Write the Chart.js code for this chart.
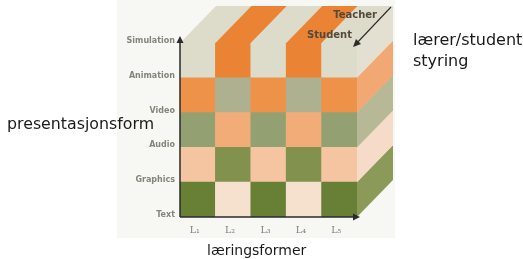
<!DOCTYPE html>
<html>
<head>
<meta charset="utf-8">
<script src="https://cdn.jsdelivr.net/npm/chart.js@4"></script>
<style>
  html, body { margin: 0; padding: 0; background: #ffffff; }
  #wrap { position: relative; width: 523px; height: 259px; overflow: hidden; }
  #bg { position: absolute; left: 117px; top: 0; width: 278px; height: 238px; background: #f7f7f3; }
  canvas { position: absolute; left: 0; top: 0; }
  .lbl { position: absolute; font-family: "DejaVu Sans", sans-serif; color: #1a1a1a; white-space: nowrap; line-height: 1; }
</style>
</head>
<body>
<div id="wrap">
  <div id="bg"></div>
  <canvas id="c" width="523" height="259"></canvas>
  <div class="lbl" style="left:7px; top:116px; font-size:15.8px;">presentasjonsform</div>
  <div class="lbl" style="left:207px; top:243px; font-size:14px;">læringsformer</div>
  <div class="lbl" style="left:413px; top:32px; font-size:16px;">lærer/student</div>
  <div class="lbl" style="left:413px; top:53px; font-size:16px;">styring</div>
</div>
<script>
// ---- data ----
const categories = ['L\u2081', 'L\u2082', 'L\u2083', 'L\u2084', 'L\u2085'];   // læringsformer
const rowTickLabels = ['Text', 'Graphics', 'Audio', 'Video', 'Animation', 'Simulation']; // presentasjonsform
const rowNames = ['Text', 'Graphics', 'Audio', 'Video', 'Animation'];
const cellHeight = [1, 1, 1, 1, 1];        // every cell is one unit tall
const depthLabels = ['Teacher', 'Student']; // lærer/student styring
// colours, bottom row -> top row
const oddColumnColors  = ['#687f36', '#f5c4a0', '#93a172', '#ef9249', '#dddccb'];
const evenColumnColors = ['#f6e1cf', '#82914d', '#f2ac78', '#adb18f', '#ea8434'];
const sideFaceColors   = ['#8b9a58', '#f6dcc8', '#b7b895', '#f1a872', '#e3e0d2'];

const depth = { dx: 36, dy: -37 };

const cubePlugin = {
  id: 'cube',
  afterDatasetsDraw(chart) {
    const ctx = chart.ctx;
    const n = chart.data.datasets.length;
    const topMeta = chart.getDatasetMeta(n - 1);
    ctx.save();
    // top face stripes
    topMeta.data.forEach((bar, i) => {
      const xl = bar.x - bar.width / 2, xr = bar.x + bar.width / 2, yt = bar.y;
      ctx.beginPath();
      ctx.moveTo(xl, yt);
      ctx.lineTo(xr + 0.5, yt);
      ctx.lineTo(xr + 0.5 + depth.dx, yt + depth.dy);
      ctx.lineTo(xl + depth.dx, yt + depth.dy);
      ctx.closePath();
      ctx.fillStyle = chart.data.datasets[n - 1].backgroundColor[i];
      ctx.fill();
    });
    // right side face
    for (let r = 0; r < n; r++) {
      const meta = chart.getDatasetMeta(r);
      const bar = meta.data[meta.data.length - 1];
      const xr = bar.x + bar.width / 2;
      const yt = bar.y, yb = bar.base;
      ctx.beginPath();
      ctx.moveTo(xr, yb);
      ctx.lineTo(xr, yt - 0.5);
      ctx.lineTo(xr + depth.dx, yt - 0.5 + depth.dy);
      ctx.lineTo(xr + depth.dx, yb + depth.dy);
      ctx.closePath();
      ctx.fillStyle = sideFaceColors[r];
      ctx.fill();
    }
    // axes with arrows
    const { left, right, top, bottom } = chart.chartArea;
    ctx.strokeStyle = '#2b2b2b';
    ctx.fillStyle = '#2b2b2b';
    ctx.lineWidth = 1.5;
    ctx.beginPath();
    ctx.moveTo(left, bottom);
    ctx.lineTo(left, top - 2);
    ctx.moveTo(left, bottom);
    ctx.lineTo(right, bottom);
    ctx.stroke();
    ctx.beginPath();
    ctx.moveTo(left, top - 7); ctx.lineTo(left - 3.5, top); ctx.lineTo(left + 3.5, top); ctx.closePath(); ctx.fill();
    ctx.beginPath();
    ctx.moveTo(right + 3, bottom); ctx.lineTo(right - 4, bottom - 3.5); ctx.lineTo(right - 4, bottom + 3.5); ctx.closePath(); ctx.fill();
    // teacher / student depth axis
    const bx = right + depth.dx - 2, by = top + depth.dy + 1;
    ctx.lineWidth = 1.1;
    ctx.beginPath();
    ctx.moveTo(bx, by);
    ctx.lineTo(right - 2, top + 2);
    ctx.stroke();
    ctx.beginPath();
    ctx.moveTo(right - 4, top + 4);
    ctx.lineTo(right + 4, top + 1);
    ctx.lineTo(right - 1, top - 4);
    ctx.closePath();
    ctx.fill();
    ctx.font = 'bold 10px "DejaVu Sans"';
    ctx.fillStyle = '#54493c';
    ctx.textAlign = 'right';
    ctx.textBaseline = 'alphabetic';
    ctx.fillText(depthLabels[0], right + 20, top - 25);
    ctx.fillText(depthLabels[1], right - 5, top - 5);
    ctx.restore();
  }
};

const datasets = rowNames.map((name, r) => ({
  label: name,
  data: cellHeight.slice(),
  backgroundColor: categories.map((c, i) => (i % 2 === 0 ? oddColumnColors[r] : evenColumnColors[r])),
  borderWidth: 0,
  barPercentage: 1.0,
  categoryPercentage: 1.0
}));

new Chart(document.getElementById('c'), {
  type: 'bar',
  data: { labels: categories, datasets },
  plugins: [cubePlugin],
  options: {
    responsive: false,
    animation: false,
    layout: { padding: { left: 120, right: 166, top: 43, bottom: 20 } },
    plugins: { legend: { display: false }, tooltip: { enabled: false } },
    scales: {
      x: {
        stacked: true,
        grid: { display: false, drawTicks: false },
        border: { display: false },
        ticks: { padding: 8, labelOffset: -3, color: '#7f7f74', font: { family: 'DejaVu Serif', size: 9.5 }, maxRotation: 0 },
        afterFit(s) { s.height = 22; }
      },
      y: {
        stacked: true,
        min: 0, max: 5,
        grid: { display: false, drawTicks: false },
        border: { display: false },
        ticks: {
          stepSize: 1, padding: 5, color: '#85857b', labelOffset: -2,
          font: { family: 'DejaVu Sans', size: 8, weight: 'bold' },
          callback: v => rowTickLabels[v]
        },
        afterFit(s) { s.width = 60; }
      }
    }
  }
});
</script>
</body>
</html>
